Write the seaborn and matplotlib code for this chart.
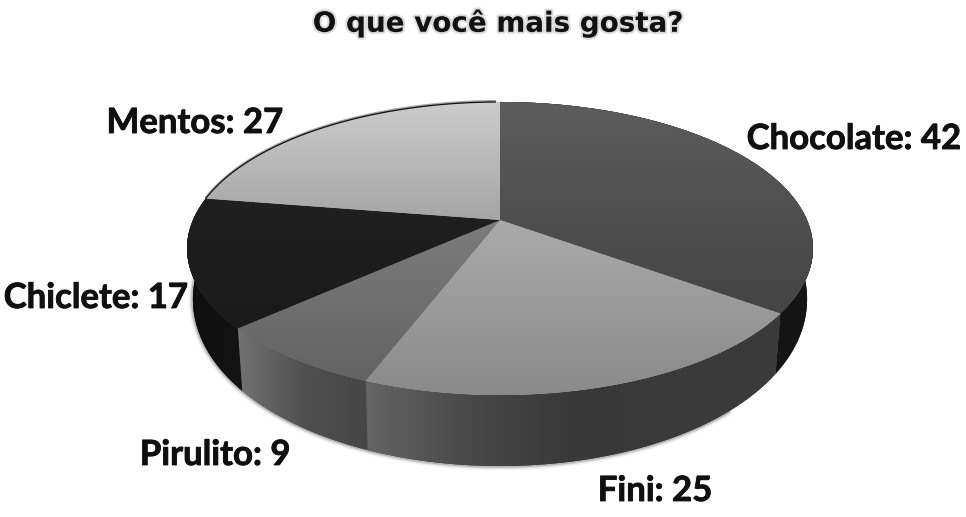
#3D style pie chart, grey gradients
import numpy as np
import matplotlib
matplotlib.use('Agg')
import matplotlib.pyplot as plt
import matplotlib.patheffects as pe
from matplotlib.patches import Polygon
from matplotlib.path import Path
from matplotlib.transforms import Transform, Affine2D
import seaborn as sns

title = "O que você mais gosta?"
names = ["Chocolate", "Fini", "Pirulito", "Chiclete", "Mentos"]
votes = [42, 25, 9, 17, 27]

# grey gradients, top to bottom on the lid, left to right on the wall
lid_colors = [("#5c5c5c", "#444444"), ("#aaaaaa", "#8a8a8a"), ("#7c7c7c", "#636363"),
              ("#202020", "#1a1a1a"), ("#cccccc", "#a6a6a6")]
wall_colors = [("#1e1e1e", "#141414"), ("#646464", "#484848", "#383838", "#3a3a3a", "#3a3a3a"),
               ("#727272", "#505050", "#464646"), ("#0e0e0e", "#141414"), ("#888888", "#888888")]
label_pos = [(854, 139), (655, 491), (215, 455), (96, 298), (195, 123)]


class Tilted(Transform):
    # unit circle seen from above, the far side shrinks
    input_dims = 2
    output_dims = 2

    def __init__(self, cx, cy, rx, ry, p):
        super().__init__()
        self.cx, self.cy, self.rx, self.ry, self.p = cx, cy, rx, ry, p

    def transform_non_affine(self, xy):
        xy = np.asarray(xy, dtype=float)
        s = 1 / (1 + self.p * xy[:, 1])
        return np.column_stack([self.cx + self.rx * xy[:, 0] * s, self.cy - self.ry * xy[:, 1] * s])

    def transform_path_non_affine(self, path):
        # flatten the bezier arcs first, they do not survive a projective map
        poly = path.to_polygons(Affine2D().scale(2000))[0] / 2000
        return Path(self.transform_non_affine(poly), closed=True)


def rim(theta1, theta2, n=80):
    th = np.radians(np.linspace(theta1, theta2, n))
    return np.column_stack([np.cos(th), np.sin(th)])


def base_ring(arc):
    # wall height grows towards the viewer
    out = lid.transform_non_affine(arc)
    out[:, 0] -= 6 * arc[:, 0]
    out[:, 1] += 45 - 26 * arc[:, 1]
    return out


def gradient(ax, clip_path, clip_trans, box, colors, z, horizontal=False):
    cmap = sns.blend_palette(colors, as_cmap=True)
    grad = np.linspace(0, 1, 128)
    grad = grad[None, :] if horizontal else grad[:, None]
    im = ax.imshow(grad, cmap=cmap, vmin=0, vmax=1, aspect='auto', zorder=z, interpolation='bilinear',
                   extent=(box.x0, box.x1, box.y1, box.y0))
    im.set_clip_path(clip_path, clip_trans)


sns.set_theme(style='white')
plt.rcParams['font.family'] = ['Lato', 'DejaVu Sans']

fig = plt.figure(figsize=(9.66, 5.17), dpi=100)
ax = fig.add_axes([0, 0, 1, 1])

lid = Tilted(500, 220, 307, 141, 0.1945)

wedges, _ = ax.pie(votes, startangle=90, counterclock=False, radius=1,
                   colors=[c[1] for c in lid_colors], wedgeprops=dict(linewidth=0))

# soft shadow under the wall
pts = base_ring(rim(100, 310, 200))
for lw, a in [(6, 0.08), (4, 0.14), (2.5, 0.25)]:
    ax.plot(pts[:, 0], pts[:, 1], color='#555555', lw=lw, alpha=a, zorder=1, solid_capstyle='round')

for w, lc, wc in zip(wedges, lid_colors, wall_colors):
    t = lid + ax.transData
    w.set_transform(t)
    w.set_zorder(5)
    box = lid.transform_path_non_affine(w.get_path()).get_extents()
    gradient(ax, w.get_path(), t, box, lc, 6)

    # wall of the slice, between lid rim and base rim
    arc = rim(w.theta1, w.theta2)
    top = lid.transform_non_affine(arc)
    bot = base_ring(arc)[::-1]
    wall = Polygon(np.vstack([top, bot]), closed=True, fc=wc[-1], ec='none', zorder=2)
    ax.add_patch(wall)
    box = wall.get_path().get_extents()
    gradient(ax, wall.get_path(), ax.transData, box, wc, 3, horizontal=True)

# thin light edge on the front rim, black line behind Mentos
a0, a1 = wedges[1].theta1, wedges[2].theta2
pts = lid.transform_non_affine(rim(a0, a1, 150))
ax.plot(pts[:, 0], pts[:, 1], color='#b0b0b0', lw=0.7, alpha=0.7, zorder=7)
m = wedges[4]
pts = lid.transform_non_affine(rim(m.theta1 + 1, m.theta2, 100))
ax.plot(pts[:, 0], pts[:, 1] - 1.0, color='#a0a0a0', lw=1.4, zorder=4)
ax.plot(pts[:, 0], pts[:, 1], color='#111111', lw=0.9, zorder=7)

ax.set_xlim(0, 966)
ax.set_ylim(517, 0)
ax.set_aspect('auto')
ax.axis('off')

for name, v, (x, y) in zip(names, votes, label_pos):
    ax.text(x, y, f"{name}: {v}", ha='center', va='center', fontsize=25, fontweight='bold',
            color='#101010', zorder=10,
            path_effects=[pe.withStroke(linewidth=0.6, foreground='#101010')])

ax.text(498, 23, title, ha='center', va='center', fontsize=20, fontweight='bold',
        family=['DejaVu Sans'], color='#111111', zorder=10,
        path_effects=[pe.withStroke(linewidth=3, foreground='#999999', alpha=0.35)])

fig.savefig('out.png', dpi=100, facecolor='white')
